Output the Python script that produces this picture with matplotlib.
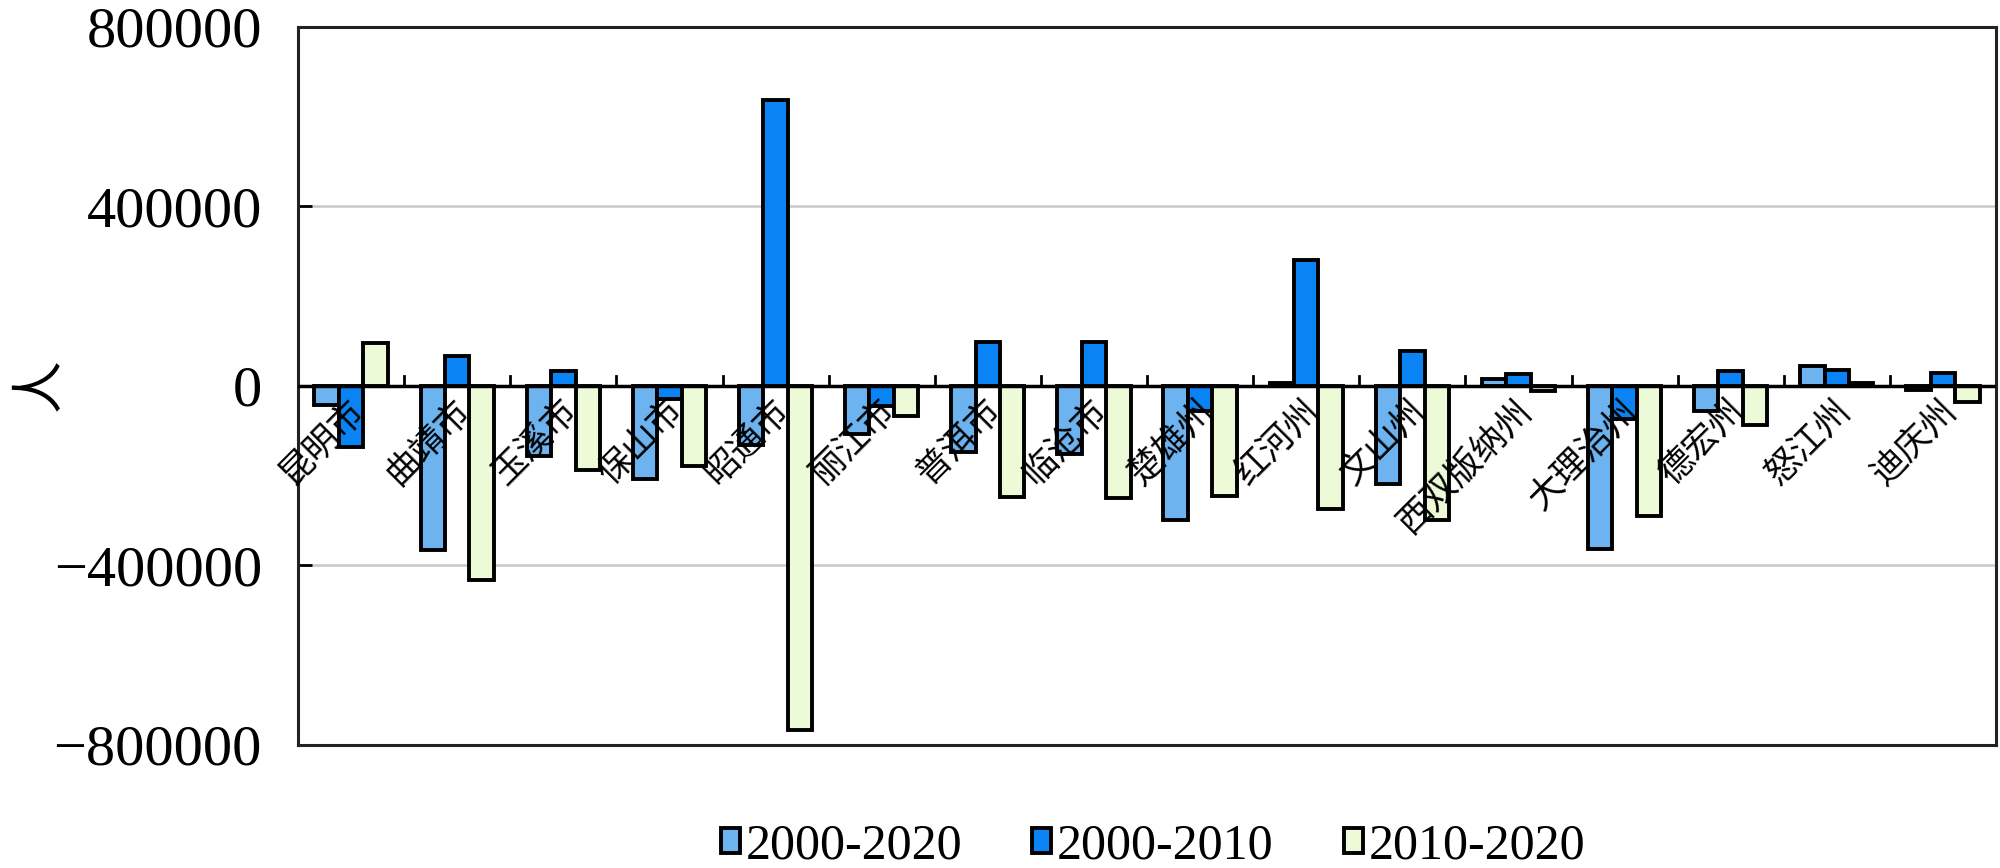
import matplotlib
matplotlib.use("Agg")
import matplotlib.pyplot as plt
import matplotlib.transforms as mtransforms
import numpy as np

categories = ["昆明市", "曲靖市", "玉溪市", "保山市", "昭通市", "丽江市", "普洱市", "临沧市",
              "楚雄州", "红河州", "文山州", "西双版纳州", "大理治州", "德宏州", "怒江州", "迪庆州"]
series_names = ["2000-2020", "2000-2010", "2010-2020"]
v_2000_2020 = [-42000, -367000, -157000, -207000, -131000, -108000, -147000, -151000,
               -299000, 6000, -218000, 15000, -363000, -55000, 44000, -10000]
v_2000_2010 = [-137000, 66000, 32000, -29000, 638000, -44000, 98000, 98000,
               -56000, 281000, 78000, 26000, -74000, 32000, 35000, 29000]
v_2010_2020 = [96000, -433000, -188000, -179000, -768000, -67000, -247000, -251000,
               -245000, -275000, -299000, -12000, -290000, -87000, 7000, -35000]
yticks = [-800000, -400000, 0, 400000, 800000]
ylabel = "人"

colors = ["#6DB3F0", "#0A84F5", "#EDFAD8"]

fig = plt.figure(figsize=(20, 8.68), dpi=100)
ax = fig.add_axes([0.149, 0.142, 0.849, 0.827])

x = np.arange(len(categories))
w = 0.23
for k, (vals, c, name) in enumerate(zip([v_2000_2020, v_2000_2010, v_2010_2020], colors, series_names)):
    ax.bar(x + (k - 1) * w, vals, width=w, color=c, edgecolor="black", linewidth=2.8,
           label=name, zorder=3)

ax.set_xlim(-0.5, len(categories) - 0.5)
ax.set_ylim(-800000, 800000)
ax.set_yticks(yticks)
ax.set_yticklabels([str(t).replace("-", "−") if t < 0 else str(t) for t in yticks],
                   fontfamily="Liberation Serif", fontsize=42)
ax.tick_params(axis="y", direction="in", length=10, width=2, pad=26)
ax.set_xticks([])
for s in ax.spines.values():
    s.set_linewidth(2.2)
    s.set_color("#222222")

# grid lines
for t in yticks:
    if t not in (0, -800000, 800000):
        ax.axhline(t, color="#C8C8C8", linewidth=1.8, zorder=0)
# zero axis line
ax.axhline(0, color="black", linewidth=2.5, zorder=4)
# category separator ticks on zero line
for b in np.arange(0.5, len(categories) - 0.5, 1.0):
    ax.plot([b, b], [0, 22000], color="black", linewidth=2, zorder=4)

# category labels
offset = mtransforms.ScaledTranslation(-3 / 72, -5 / 72, fig.dpi_scale_trans)
for i, c in enumerate(categories):
    ax.text(i, 0, c, rotation=45, ha="right", va="top", rotation_mode="anchor",
            fontsize=25, fontfamily=["Noto Sans CJK SC", "DejaVu Sans"],
            transform=ax.transData + offset, zorder=5)

fig.text(0.006, 1 - 385 / 868, ylabel, rotation=90, va="center", ha="left",
         fontsize=38, fontfamily=["Noto Sans CJK SC", "DejaVu Sans"])

leg = ax.legend(loc="center", bbox_to_anchor=(0.5765, 1 - 846 / 868), bbox_transform=fig.transFigure,
                ncol=3, frameon=False, prop={"family": "Liberation Serif", "size": 36},
                handlelength=0.38, handleheight=0.38, handletextpad=0.12, columnspacing=1.4)

fig.savefig("out.png", dpi=100)
